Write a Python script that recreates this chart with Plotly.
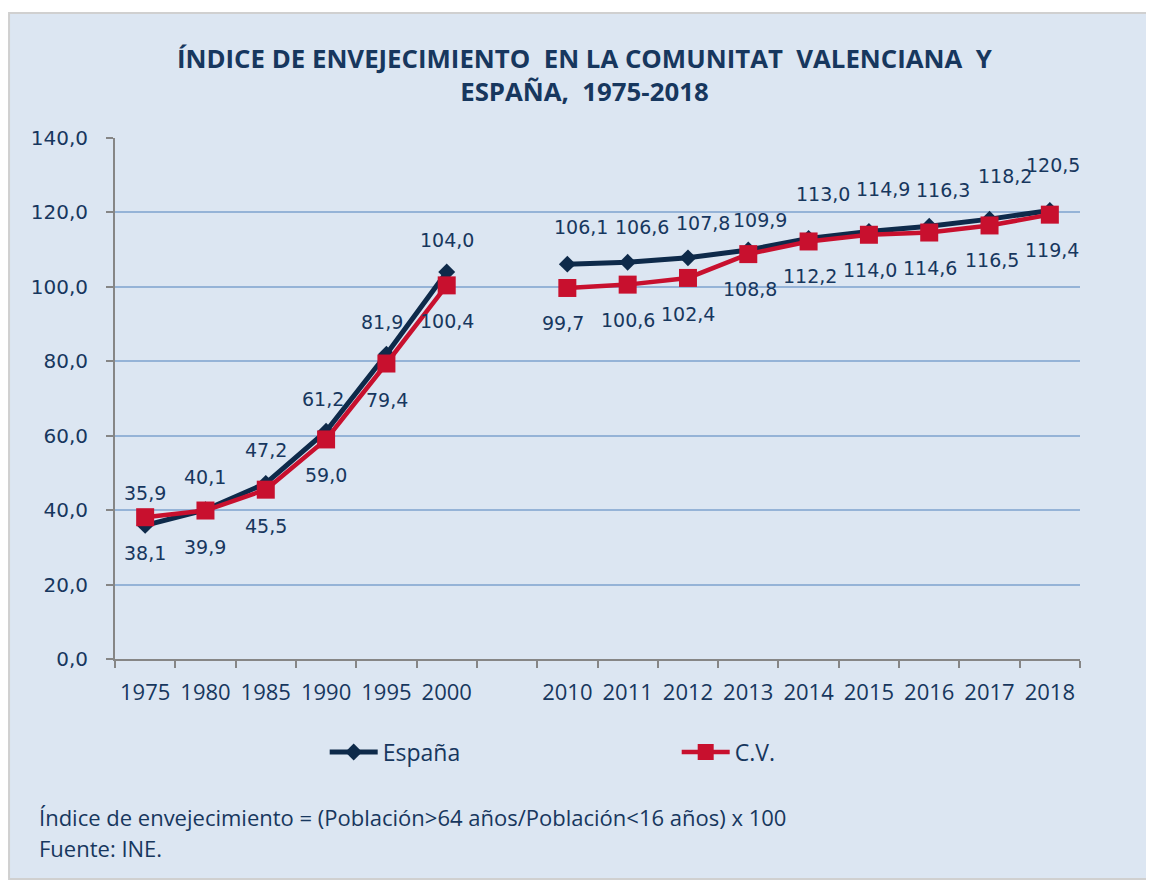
import plotly.graph_objects as go

# ---------------- data ----------------
categories = ["1975", "1980", "1985", "1990", "1995", "2000", " ",
              "2010", "2011", "2012", "2013", "2014", "2015", "2016", "2017", "2018"]
espana = [35.9, 40.1, 47.2, 61.2, 81.9, 104.0, None,
          106.1, 106.6, 107.8, 109.9, 113.0, 114.9, 116.3, 118.2, 120.5]
cv = [38.1, 39.9, 45.5, 59.0, 79.4, 100.4, None,
      99.7, 100.6, 102.4, 108.8, 112.2, 114.0, 114.6, 116.5, 119.4]
y_ticks = [0, 20, 40, 60, 80, 100, 120, 140]

# label offsets (pixels) - style only
es_dx = [0, 0, 0, -3, -4, 0, 0, 14, 14, 15, 12, 14, 14, 14, 15, 3]
es_dy = [32, 33, 33, 32, 32, 32, 0, 37, 35, 35, 30, 44, 42, 36, 43, 46]
cv_dx = [0, 0, 0, 0, 1, 0, 0, -4, 0, 0, 2, 1, 1, 1, 2, 2]
cv_dy = [-36, -36, -36, -36, -36, -36, 0, -35, -35, -36, -35, -35, -35, -35, -35, -35]

NAVY = "#17375e"
DARK = "#0e2a4a"
RED = "#c8102e"
BG = "#dce6f2"
GRID = "#95b3d7"
AXIS = "#868686"

fig = go.Figure()
fig.add_trace(go.Scatter(
    x=categories, y=espana, name="España", mode="lines+markers",
    line=dict(color=DARK, width=5), connectgaps=False,
    marker=dict(symbol="diamond", size=13, color=DARK),
))
fig.add_trace(go.Scatter(
    x=categories, y=cv, name="C.V.", mode="lines+markers",
    line=dict(color=RED, width=4.5), connectgaps=False,
    marker=dict(symbol="square", size=18, color=RED),
))

def fmt(v):
    return f"{v:.1f}".replace(".", ",")

for i, v in enumerate(espana):
    if v is None:
        continue
    fig.add_annotation(x=i, y=v, xref="x", yref="y", text=fmt(v), showarrow=False,
                       xshift=es_dx[i], yshift=es_dy[i],
                       font=dict(family="DejaVu Sans", size=19, color=NAVY))
for i, v in enumerate(cv):
    if v is None:
        continue
    fig.add_annotation(x=i, y=v, xref="x", yref="y", text=fmt(v), showarrow=False,
                       xshift=cv_dx[i], yshift=cv_dy[i],
                       font=dict(family="DejaVu Sans", size=19, color=NAVY))

# footnotes
fig.add_annotation(x=-0.0809, y=-0.3033, xref="paper", yref="paper", xanchor="left", yanchor="middle",
                   text="Índice de envejecimiento = (Población>64 años/Población<16 años) x 100",
                   showarrow=False, font=dict(family="Open Sans", size=22, color=NAVY))
fig.add_annotation(x=-0.0809, y=-0.3628, xref="paper", yref="paper", xanchor="left", yanchor="middle",
                   text="Fuente: INE.",
                   showarrow=False, font=dict(family="Open Sans", size=22, color=NAVY))

# outer border of chart
fig.add_shape(type="rect", xref="paper", yref="paper",
              x0=-0.1098, x1=1.0725, y0=-0.4223, y1=1.2399,
              line=dict(color="#d0d0d0", width=2), fillcolor=BG, layer="below")

fig.update_layout(
    width=1146, height=875,
    margin=dict(l=107, r=74, t=130, b=224),
    paper_bgcolor="white",
    plot_bgcolor="white",
    separators=",.",
    title=dict(
        text="ÍNDICE DE ENVEJECIMIENTO  EN LA COMUNITAT  VALENCIANA  Y<br>ESPAÑA,  1975-2018",
        x=0.503, xanchor="center", y=0.9316, yanchor="top",
        font=dict(family="Open Sans", size=25.8, color=NAVY, weight="bold"),
    ),
    xaxis=dict(
        type="category", categoryorder="array", categoryarray=categories,
        showline=True, linecolor=AXIS, linewidth=2,
        ticks="outside", tickson="boundaries", ticklen=7, tickcolor=AXIS, tickwidth=2,
        showgrid=False, ticklabelstandoff=13, tickangle=0,
        tickfont=dict(family="Open Sans", size=22, color=NAVY),
        range=[-0.5, 15.5],
    ),
    yaxis=dict(
        range=[0, 140], tickvals=y_ticks, tickformat=".1f",
        showline=True, linecolor=AXIS, linewidth=2,
        ticks="outside", ticklen=7, tickcolor=AXIS, tickwidth=2,
        showgrid=True, gridcolor=GRID, gridwidth=1.5, zeroline=False,
        ticklabelstandoff=14,
        tickfont=dict(family="DejaVu Sans", size=20, color=NAVY),
    ),
    legend=dict(
        orientation="h", x=0.2173, xanchor="left", y=-0.1785, yanchor="middle",
        bgcolor="rgba(0,0,0,0)", entrywidth=289, itemwidth=48,
        font=dict(family="Open Sans", size=23, color=NAVY),
    ),
    showlegend=True,
)

fig.write_html("out.html")
